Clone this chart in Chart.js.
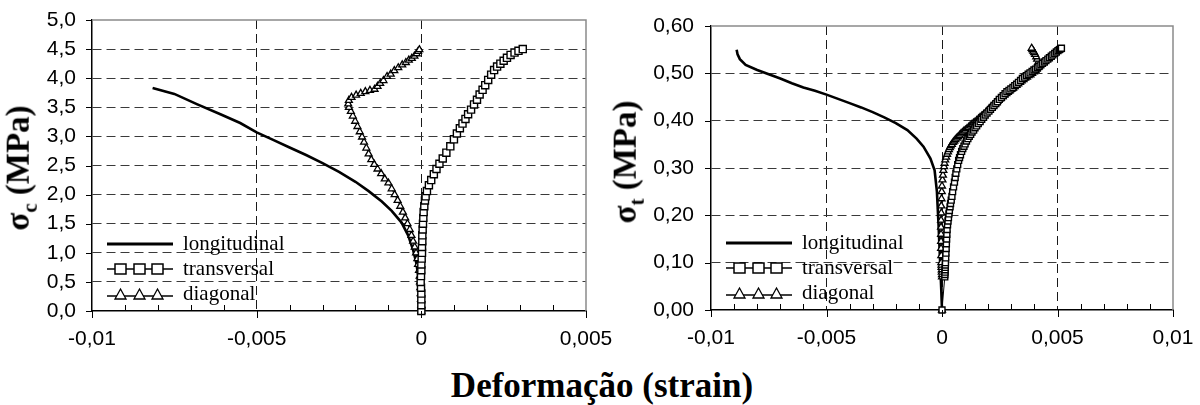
<!DOCTYPE html>
<html lang="pt">
<head>
<meta charset="UTF-8">
<title>Deformação (strain)</title>
<script src="https://cdn.jsdelivr.net/npm/chart.js"></script>
<style>
  body { margin: 0; background: #fff; }
  #wrap { position: relative; width: 1200px; height: 405px; overflow: hidden; font-family: 'Liberation Serif', 'Times New Roman', serif; }
  canvas { position: absolute; top: 0; }
  .ytitle { position: absolute; transform: translate(-50%, -50%) rotate(-90deg); white-space: nowrap; font-weight: bold; font-size: 33px; }
  .ytitle sub { font-size: 21px; }
  .xtitle { position: absolute; left: 602px; top: 386px; transform: translate(-50%, -50%); font-weight: bold; font-size: 35px; white-space: nowrap; font-family: 'Liberation Serif', 'Times New Roman', serif; }
  .legend { position: absolute; font-size: 21px; }
  .legend .row { display: flex; align-items: center; height: 25px; }
  .legend svg { margin-right: 10px; }
</style>
</head>
<body>
<div id="wrap">
  <canvas id="chartC" width="640" height="360" style="left:0"></canvas>
  <canvas id="chartT" width="600" height="360" style="left:600px"></canvas>

  <div class="ytitle" style="left:21px; top:168px">σ<sub>c</sub> (MPa)</div>
  <div class="ytitle" style="left:628px; top:162px">σ<sub>t</sub> (MPa)</div>
  <div class="xtitle">Deformação (strain)</div>

  <div class="legend" style="left:107px; top:231px">
    <div class="row"><svg width="66" height="14"><line x1="0" y1="7" x2="66" y2="7" stroke="#000" stroke-width="3"/></svg>longitudinal</div>
    <div class="row"><svg width="66" height="14"><line x1="0" y1="7" x2="66" y2="7" stroke="#000" stroke-width="1.5"/><rect x="8" y="2" width="11" height="10" fill="#fff" stroke="#000" stroke-width="1.5"/><rect x="27" y="2" width="11" height="10" fill="#fff" stroke="#000" stroke-width="1.5"/><rect x="45" y="2" width="11" height="10" fill="#fff" stroke="#000" stroke-width="1.5"/></svg>transversal</div>
    <div class="row"><svg width="66" height="14"><line x1="0" y1="9" x2="66" y2="9" stroke="#000" stroke-width="1.5"/><polygon points="13.5,2 19,12 8,12" fill="#fff" stroke="#000" stroke-width="1.3"/><polygon points="32.5,2 38,12 27,12" fill="#fff" stroke="#000" stroke-width="1.3"/><polygon points="50.5,2 56,12 45,12" fill="#fff" stroke="#000" stroke-width="1.3"/></svg>diagonal</div>
  </div>
  <div class="legend" style="left:726px; top:230px">
    <div class="row"><svg width="66" height="14"><line x1="0" y1="7" x2="66" y2="7" stroke="#000" stroke-width="3"/></svg>longitudinal</div>
    <div class="row"><svg width="66" height="14"><line x1="0" y1="7" x2="66" y2="7" stroke="#000" stroke-width="1.5"/><rect x="8" y="2" width="11" height="10" fill="#fff" stroke="#000" stroke-width="1.5"/><rect x="27" y="2" width="11" height="10" fill="#fff" stroke="#000" stroke-width="1.5"/><rect x="45" y="2" width="11" height="10" fill="#fff" stroke="#000" stroke-width="1.5"/></svg>transversal</div>
    <div class="row"><svg width="66" height="14"><line x1="0" y1="9" x2="66" y2="9" stroke="#000" stroke-width="1.5"/><polygon points="13.5,2 19,12 8,12" fill="#fff" stroke="#000" stroke-width="1.3"/><polygon points="32.5,2 38,12 27,12" fill="#fff" stroke="#000" stroke-width="1.3"/><polygon points="50.5,2 56,12 45,12" fill="#fff" stroke="#000" stroke-width="1.3"/></svg>diagonal</div>
  </div>
</div>

<script>
// ---- compressao (sigma_c) ----
const compLongX = [-0.00816, -0.0075, -0.0068, -0.0061, -0.0055, -0.005, -0.0045, -0.004, -0.0035, -0.003, -0.0025, -0.002, -0.0016, -0.0012, -0.0009, -0.0006, -0.0004, -0.00025, -0.00015, -0.00007, -0.00003, 0];
const compLongY = [3.83, 3.73, 3.55, 3.38, 3.23, 3.07, 2.94, 2.81, 2.68, 2.54, 2.39, 2.22, 2.06, 1.88, 1.72, 1.52, 1.30, 1.05, 0.82, 0.50, 0.25, 0];

const compTransX = [0, 0, 0, 0, -0.00001, -0.00002, -0.00001, 0, 0, 0.00001, 0.00002, 0.00002, 0.00003, 0.00003, 0.00004, 0.00005, 0.00006, 0.00007, 0.00009, 0.00011, 0.00013, 0.00017, 0.00023, 0.0003, 0.00038, 0.00046, 0.00055, 0.00065, 0.00076, 0.00088, 0.00099, 0.00108, 0.00117, 0.00125, 0.00134, 0.00142, 0.00151, 0.0016, 0.00169, 0.00177, 0.00186, 0.00194, 0.00203, 0.00212, 0.00221, 0.0023, 0.0024, 0.0025, 0.0026, 0.00271, 0.00283, 0.00295, 0.00308];
const compTransY = [0, 0.1, 0.2, 0.3, 0.4, 0.5, 0.6, 0.7, 0.8, 0.9, 1.0, 1.1, 1.2, 1.3, 1.4, 1.5, 1.6, 1.7, 1.8, 1.9, 1.97, 2.06, 2.16, 2.25, 2.35, 2.44, 2.53, 2.62, 2.72, 2.83, 2.95, 3.05, 3.14, 3.22, 3.30, 3.38, 3.46, 3.55, 3.63, 3.72, 3.80, 3.88, 3.97, 4.06, 4.14, 4.20, 4.25, 4.30, 4.35, 4.40, 4.44, 4.47, 4.50];

const compDiagX = [0, 0, -0.00001, -0.00002, -0.00003, -0.00004, -0.00005, -0.00007, -0.0001, -0.00012, -0.00016, -0.0002, -0.00025, -0.0003, -0.00035, -0.00042, -0.00049, -0.00056, -0.00064, -0.00072, -0.00081, -0.0009, -0.001, -0.00111, -0.00122, -0.00133, -0.00143, -0.00152, -0.0016, -0.00167, -0.00174, -0.0018, -0.00187, -0.00194, -0.00201, -0.00208, -0.00214, -0.0022, -0.00222, -0.0022, -0.00212, -0.00198, -0.00184, -0.0017, -0.00156, -0.00142, -0.00133, -0.00125, -0.00115, -0.00104, -0.00093, -0.00082, -0.0007, -0.00058, -0.00047, -0.00038, -0.00029, -0.00021, -0.00014, -0.0001, -0.00006];
const compDiagY = [0, 0.1, 0.2, 0.3, 0.4, 0.5, 0.6, 0.7, 0.8, 0.9, 1.0, 1.1, 1.2, 1.3, 1.4, 1.5, 1.6, 1.7, 1.8, 1.9, 2.0, 2.1, 2.2, 2.27, 2.36, 2.44, 2.52, 2.60, 2.70, 2.80, 2.90, 2.99, 3.08, 3.17, 3.26, 3.35, 3.43, 3.50, 3.56, 3.62, 3.67, 3.71, 3.74, 3.77, 3.79, 3.81, 3.86, 3.91, 3.96, 4.03, 4.07, 4.13, 4.18, 4.23, 4.27, 4.31, 4.34, 4.38, 4.42, 4.46, 4.49];

// ---- tracao (sigma_t) ----
const tensLongX = [-0.00889, -0.00885, -0.00875, -0.0085, -0.008, -0.0075, -0.007, -0.0065, -0.006, -0.0055, -0.005, -0.0045, -0.004, -0.0035, -0.003, -0.0025, -0.002, -0.0015, -0.0011, -0.0008, -0.0005, -0.00032, -0.00022, -0.00015, -0.00008, -0.00003, 0];
const tensLongY = [0.550, 0.540, 0.530, 0.518, 0.507, 0.498, 0.489, 0.479, 0.470, 0.463, 0.455, 0.446, 0.437, 0.428, 0.418, 0.407, 0.395, 0.380, 0.362, 0.345, 0.320, 0.295, 0.250, 0.180, 0.100, 0.040, 0];

const tensTransX = [0, 0.00012, 0.000125, 0.00013, 0.000135, 0.00014, 0.000145, 0.00015, 0.00016, 0.00017, 0.00018, 0.00019, 0.0002, 0.00021, 0.00022, 0.00024, 0.00026, 0.00028, 0.0003, 0.00032, 0.00035, 0.00037, 0.0004, 0.00043, 0.00046, 0.0005, 0.00054, 0.00057, 0.0006, 0.00064, 0.00068, 0.00072, 0.00076, 0.0008, 0.00085, 0.0009, 0.00095, 0.001, 0.00106, 0.00112, 0.00118, 0.00124, 0.0013, 0.00137, 0.00143, 0.0015, 0.00157, 0.00165, 0.00172, 0.0018, 0.00187, 0.00195, 0.00203, 0.0021, 0.00218, 0.00225, 0.00233, 0.0024, 0.00248, 0.00257, 0.00265, 0.00273, 0.00281, 0.0029, 0.00298, 0.00307, 0.00315, 0.00323, 0.00331, 0.0034, 0.00348, 0.00357, 0.00365, 0.00373, 0.00381, 0.0039, 0.00398, 0.00405, 0.00413, 0.0042, 0.00428, 0.00435, 0.00443, 0.0045, 0.00458, 0.00465, 0.00473, 0.0048, 0.00488, 0.00495, 0.00502, 0.00508, 0.00513, 0.00517];
const tensTransY = [0, 0.070, 0.075, 0.080, 0.085, 0.090, 0.095, 0.100, 0.110, 0.120, 0.130, 0.140, 0.150, 0.160, 0.170, 0.180, 0.188, 0.195, 0.203, 0.210, 0.218, 0.225, 0.232, 0.240, 0.250, 0.260, 0.270, 0.280, 0.289, 0.298, 0.307, 0.316, 0.322, 0.328, 0.335, 0.341, 0.346, 0.351, 0.357, 0.362, 0.367, 0.371, 0.376, 0.380, 0.385, 0.389, 0.394, 0.398, 0.403, 0.407, 0.412, 0.416, 0.420, 0.424, 0.428, 0.432, 0.436, 0.440, 0.445, 0.449, 0.453, 0.457, 0.461, 0.464, 0.467, 0.470, 0.474, 0.477, 0.481, 0.485, 0.489, 0.492, 0.495, 0.498, 0.501, 0.504, 0.507, 0.509, 0.512, 0.515, 0.518, 0.521, 0.524, 0.527, 0.530, 0.533, 0.536, 0.539, 0.542, 0.545, 0.548, 0.550, 0.552, 0.553];

const tensDiagX = [0, 0, 0, -0.00001, -0.00001, -0.00002, -0.00002, -0.00003, -0.00003, -0.00004, -0.00004, -0.00004, -0.00004, -0.00004, -0.00003, -0.00003, -0.00002, -0.00001, 0, 0.00002, 0.00004, 0.00006, 0.00009, 0.00011, 0.00014, 0.00018, 0.00022, 0.00026, 0.0003, 0.00034, 0.00038, 0.00043, 0.00048, 0.00053, 0.00058, 0.00064, 0.0007, 0.00076, 0.00082, 0.00088, 0.00095, 0.00101, 0.00108, 0.00115, 0.00122, 0.00129, 0.00136, 0.00143, 0.0015, 0.00158, 0.00165, 0.00173, 0.0018, 0.00188, 0.00195, 0.00203, 0.0021, 0.00218, 0.00225, 0.00233, 0.0024, 0.00248, 0.00255, 0.00263, 0.0027, 0.00278, 0.00285, 0.00293, 0.003, 0.00308, 0.00315, 0.00323, 0.0033, 0.00338, 0.00345, 0.00353, 0.0036, 0.00368, 0.00375, 0.00383, 0.0039, 0.00398, 0.00405, 0.0041, 0.00415, 0.00419, 0.00421, 0.00417, 0.00412, 0.00408, 0.00403, 0.00399, 0.00395, 0.00391, 0.00388];
const tensDiagY = [0, 0.070, 0.075, 0.080, 0.085, 0.090, 0.095, 0.100, 0.115, 0.130, 0.145, 0.160, 0.175, 0.190, 0.205, 0.220, 0.235, 0.250, 0.262, 0.275, 0.285, 0.295, 0.303, 0.310, 0.317, 0.323, 0.329, 0.334, 0.339, 0.343, 0.347, 0.350, 0.354, 0.357, 0.360, 0.363, 0.366, 0.369, 0.372, 0.375, 0.378, 0.380, 0.383, 0.386, 0.389, 0.392, 0.395, 0.397, 0.400, 0.404, 0.407, 0.410, 0.413, 0.416, 0.420, 0.424, 0.427, 0.431, 0.434, 0.438, 0.441, 0.445, 0.448, 0.451, 0.454, 0.457, 0.460, 0.463, 0.466, 0.469, 0.472, 0.475, 0.478, 0.481, 0.484, 0.487, 0.490, 0.492, 0.495, 0.497, 0.500, 0.503, 0.506, 0.509, 0.512, 0.514, 0.517, 0.524, 0.530, 0.535, 0.540, 0.544, 0.547, 0.550, 0.553];

const xMajor = 0.005;

Chart.defaults.font.family = "'Liberation Sans', Arial, sans-serif";
Chart.defaults.font.size = 21;
Chart.defaults.color = '#000';

function pts(xs, ys) {
  return xs.map((x, i) => ({ x: x, y: ys[i] }));
}

function isMultiple(v, step) {
  const k = Math.round(v / step);
  return Math.abs(k * step - v) < 1e-9;
}

function fmtX(v) {
  if (!isMultiple(v, xMajor)) return '';
  const k = Math.round(v / xMajor);
  if (k === 0) return '0';
  return String(+(k * xMajor).toFixed(3)).replace('.', ',');
}

// moldura cinza + marcas dos eixos
const frame = {
  id: 'frame',
  afterDraw(chart) {
    const { ctx, chartArea: a, scales: { x, y } } = chart;
    ctx.save();
    ctx.strokeStyle = '#8a8a8a';
    ctx.lineWidth = 1.5;
    ctx.beginPath();
    ctx.moveTo(a.left, a.top);
    ctx.lineTo(a.right, a.top);
    ctx.lineTo(a.right, a.bottom);
    ctx.stroke();
    ctx.strokeStyle = '#000';
    ctx.lineWidth = 1;
    x.ticks.forEach(t => {
      const px = Math.round(x.getPixelForValue(t.value)) + 0.5;
      const major = isMultiple(t.value, xMajor);
      ctx.beginPath();
      ctx.moveTo(px, a.bottom);
      ctx.lineTo(px, major ? a.bottom + 7 : a.bottom - 6);
      ctx.stroke();
    });
    y.ticks.forEach(t => {
      const py = Math.round(y.getPixelForValue(t.value)) + 0.5;
      ctx.beginPath();
      ctx.moveTo(a.left - 6, py);
      ctx.lineTo(a.left, py);
      ctx.stroke();
    });
    ctx.restore();
  }
};

function makeChart(id, cfg) {
  const canvas = document.getElementById(id);
  const yAxisWidth = cfg.left;
  const xAxisHeight = canvas.height - cfg.bottom;
  return new Chart(canvas, {
    type: 'scatter',
    data: {
      datasets: [
        {
          label: 'transversal',
          data: pts(cfg.trans[0], cfg.trans[1]),
          showLine: true,
          borderColor: '#000',
          borderWidth: 1,
          pointStyle: 'rect',
          pointRadius: cfg.sq,
          pointBackgroundColor: '#fff',
          pointBorderColor: '#000',
          pointBorderWidth: 1.4,
          clip: false
        },
        {
          label: 'diagonal',
          data: pts(cfg.diag[0], cfg.diag[1]),
          showLine: true,
          borderColor: '#000',
          borderWidth: 1,
          pointStyle: 'triangle',
          pointRadius: cfg.tri,
          pointBackgroundColor: '#fff',
          pointBorderColor: '#000',
          pointBorderWidth: 1.3,
          clip: false
        },
        {
          label: 'longitudinal',
          data: pts(cfg.long[0], cfg.long[1]),
          showLine: true,
          borderColor: '#000',
          borderWidth: 2.6,
          pointRadius: 0,
          clip: false
        }
      ]
    },
    options: {
      responsive: false,
      animation: false,
      devicePixelRatio: 1,
      events: [],
      layout: { padding: { left: 0, top: cfg.top, right: canvas.width - cfg.right, bottom: 0 } },
      plugins: { legend: { display: false }, tooltip: { enabled: false } },
      scales: {
        x: {
          type: 'linear',
          min: cfg.xMin,
          max: cfg.xMax,
          ticks: { stepSize: 0.001, autoSkip: false, maxRotation: 0, padding: 16, callback: v => fmtX(v) },
          grid: {
            drawTicks: false,
            color: c => (isMultiple(c.tick.value, xMajor) && c.tick.value > cfg.xMin + 1e-9 && c.tick.value < cfg.xMax - 1e-9) ? '#1a1a1a' : 'rgba(0,0,0,0)',
            lineWidth: 1
          },
          border: { color: '#000', width: 1.5, dash: [9, 5] },
          afterFit: s => { s.height = xAxisHeight; s.paddingLeft = 0; s.paddingRight = 0; }
        },
        y: {
          type: 'linear',
          min: 0,
          max: cfg.yMax,
          ticks: { stepSize: cfg.yStep, padding: cfg.yPad, callback: v => v.toFixed(cfg.dec).replace('.', ',') },
          grid: {
            drawTicks: false,
            color: c => (c.tick.value > 1e-9 && c.tick.value < cfg.yMax - 1e-9) ? '#3a3a3a' : 'rgba(0,0,0,0)',
            lineWidth: 1
          },
          border: { color: '#000', width: 1.5, dash: [9, 5] },
          afterFit: s => { s.width = yAxisWidth; s.paddingTop = 0; s.paddingBottom = 0; }
        }
      }
    },
    plugins: [frame]
  });
}

makeChart('chartC', {
  left: 92, right: 586, top: 20, bottom: 311,
  xMin: -0.01, xMax: 0.005, yMax: 5, yStep: 0.5, dec: 1, yPad: 16,
  sq: 5, tri: 4,
  long: [compLongX, compLongY], trans: [compTransX, compTransY], diag: [compDiagX, compDiagY]
});

makeChart('chartT', {
  left: 111, right: 573, top: 26, bottom: 310,
  xMin: -0.01, xMax: 0.01, yMax: 0.6, yStep: 0.1, dec: 2, yPad: 17,
  sq: 4.2, tri: 4,
  long: [tensLongX, tensLongY], trans: [tensTransX, tensTransY], diag: [tensDiagX, tensDiagY]
});
</script>
</body>
</html>
